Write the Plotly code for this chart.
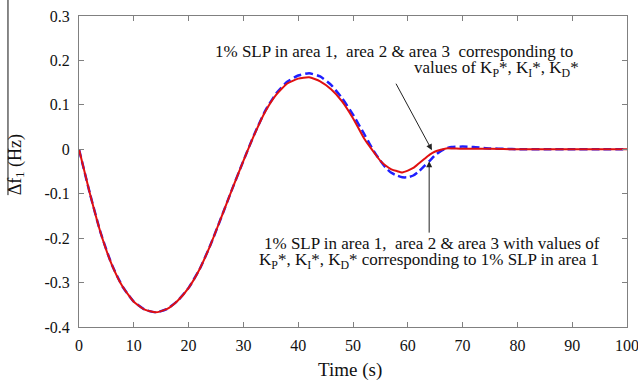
import plotly.graph_objects as go

# time (s)
t_red = [0, 2, 4, 6, 8, 10, 12, 14, 16, 18, 20, 22, 24, 26, 28, 30, 32, 34, 36, 38, 40, 42, 44, 46, 48, 50,
         52, 53, 54, 55, 56, 57, 58, 59, 60, 61, 62, 63, 64, 65, 66, 67, 68, 70, 75, 80, 85, 90, 95, 100]
f_red = [0, -0.10, -0.19, -0.26, -0.31, -0.343, -0.361, -0.367, -0.360, -0.341, -0.312, -0.270, -0.215,
         -0.152, -0.088, -0.026, 0.033, 0.085, 0.123, 0.148, 0.159, 0.162, 0.153, 0.135, 0.108, 0.070,
         0.025, 0.007, -0.010, -0.026, -0.037, -0.045, -0.049, -0.052, -0.048, -0.042, -0.032, -0.022,
         -0.012, -0.005, -0.001, 0.002, 0.002, 0.001, 0.001, 0, 0, 0, 0, 0]

t_blue = [0, 2, 4, 6, 8, 10, 12, 14, 16, 18, 20, 22, 24, 26, 28, 30, 32, 34, 36, 38, 40, 42, 44, 46, 48, 50,
          52, 53, 54, 55, 56, 57, 58, 59, 60, 61, 62, 63, 64, 65, 66, 67, 68, 70, 72, 75, 78, 80, 85, 90, 95, 100]
f_blue = [0, -0.10, -0.19, -0.26, -0.31, -0.343, -0.361, -0.367, -0.360, -0.341, -0.312, -0.270, -0.215,
          -0.152, -0.088, -0.026, 0.034, 0.087, 0.126, 0.152, 0.166, 0.171, 0.164, 0.145, 0.115, 0.078,
          0.035, 0.013, -0.008, -0.026, -0.042, -0.053, -0.059, -0.063, -0.063, -0.059, -0.050, -0.038,
          -0.026, -0.013, -0.004, 0.002, 0.005, 0.006, 0.005, 0.002, 0.001, 0, 0, 0, 0, 0]

x_ticks = [0, 10, 20, 30, 40, 50, 60, 70, 80, 90, 100]
x_labels = ["0", "10", "20", "30", "40", "50", "60", "70", "80", "90", "100"]
y_ticks = [0.3, 0.2, 0.1, 0, -0.1, -0.2, -0.3, -0.4]
y_labels = ["0.3", "0.2", "0.1", "0", "-0.1", "-0.2", "-0.3", "-0.4"]
x_title = "Time (s)"
y_title = "Δf<sub>1</sub> (Hz)"

FONT = "Liberation Serif, Times New Roman, serif"

fig = go.Figure()
fig.add_trace(go.Scatter(x=t_blue, y=f_blue, mode="lines",
                         line=dict(color="#1f1fff", width=2.5, dash="8px,4px", shape="spline", smoothing=0.5),
                         showlegend=False))
fig.add_trace(go.Scatter(x=t_red, y=f_red, mode="lines",
                         line=dict(color="#e01010", width=2, shape="spline", smoothing=0.5),
                         showlegend=False))

axis_common = dict(showline=True, linecolor="#808080", linewidth=1, mirror="ticks",
                   ticks="inside", ticklen=5, tickcolor="#808080", showgrid=False, zeroline=False,
                   automargin=False, ticklabeloverflow="allow",
                   tickfont=dict(family=FONT, size=16, color="#111"))

fig.update_xaxes(range=[0, 100], tickvals=x_ticks, ticktext=x_labels, ticklabelstandoff=4, **axis_common)
fig.update_yaxes(range=[-0.4, 0.3], tickvals=y_ticks, ticktext=y_labels, ticklabelstandoff=5, **axis_common)

# axis titles
fig.add_annotation(x=0.495, y=-0.138, xref="paper", yref="paper", showarrow=False, text=x_title,
                   font=dict(family=FONT, size=19, color="#111"), xanchor="center", yanchor="middle")
fig.add_annotation(x=-0.115, y=0.523, xref="paper", yref="paper", showarrow=False, text=y_title,
                   textangle=-90, font=dict(family=FONT, size=18, color="#111"),
                   xanchor="center", yanchor="middle")

ann_font = dict(family=FONT, size=17, color="#111")
fig.add_annotation(x=57.5, y=0.221, xref="x", yref="y", showarrow=False,
                   text="1% SLP in area 1, &nbsp;area 2 &amp; area 3 &nbsp;corresponding to",
                   font=ann_font, xanchor="center", yanchor="middle")
fig.add_annotation(x=91.6, y=0.180, xref="x", yref="y", showarrow=False,
                   text="values of K<sub>P</sub>*, K<sub>I</sub>*, K<sub>D</sub>*",
                   font=ann_font, xanchor="right", yanchor="middle")
fig.add_annotation(x=64.4, y=-0.212, xref="x", yref="y", showarrow=False,
                   text="1% SLP in area 1, &nbsp;area 2 &amp; area 3 with values of",
                   font=ann_font, xanchor="center", yanchor="middle")
fig.add_annotation(x=63.9, y=-0.252, xref="x", yref="y", showarrow=False,
                   text="K<sub>P</sub>*, K<sub>I</sub>*, K<sub>D</sub>* corresponding to 1% SLP in area 1",
                   font=ann_font, xanchor="center", yanchor="middle")

# arrows
fig.add_annotation(x=64.4, y=-0.002, ax=57.7, ay=0.151, xref="x", yref="y", axref="x", ayref="y",
                   text="", showarrow=True, arrowhead=2, arrowsize=1.2, arrowwidth=1, arrowcolor="#222")
fig.add_annotation(x=63.9, y=-0.027, ax=63.9, ay=-0.191, xref="x", yref="y", axref="x", ayref="y",
                   text="", showarrow=True, arrowhead=2, arrowsize=1.2, arrowwidth=1, arrowcolor="#222")

# stray vertical line at far left of the image
fig.add_shape(type="line", xref="paper", yref="paper", x0=-0.1296, x1=-0.1296, y0=1.06, y1=0.424,
              line=dict(color="#111", width=1))

fig.update_layout(width=638, height=381, margin=dict(l=79, r=11, t=16, b=54),
                  paper_bgcolor="white", plot_bgcolor="white",
                  font=dict(family=FONT, color="#111"))

fig.write_html("out.html", config={"displayModeBar": False},
               post_script="document.body.style.margin='0';document.body.style.padding='0';")
